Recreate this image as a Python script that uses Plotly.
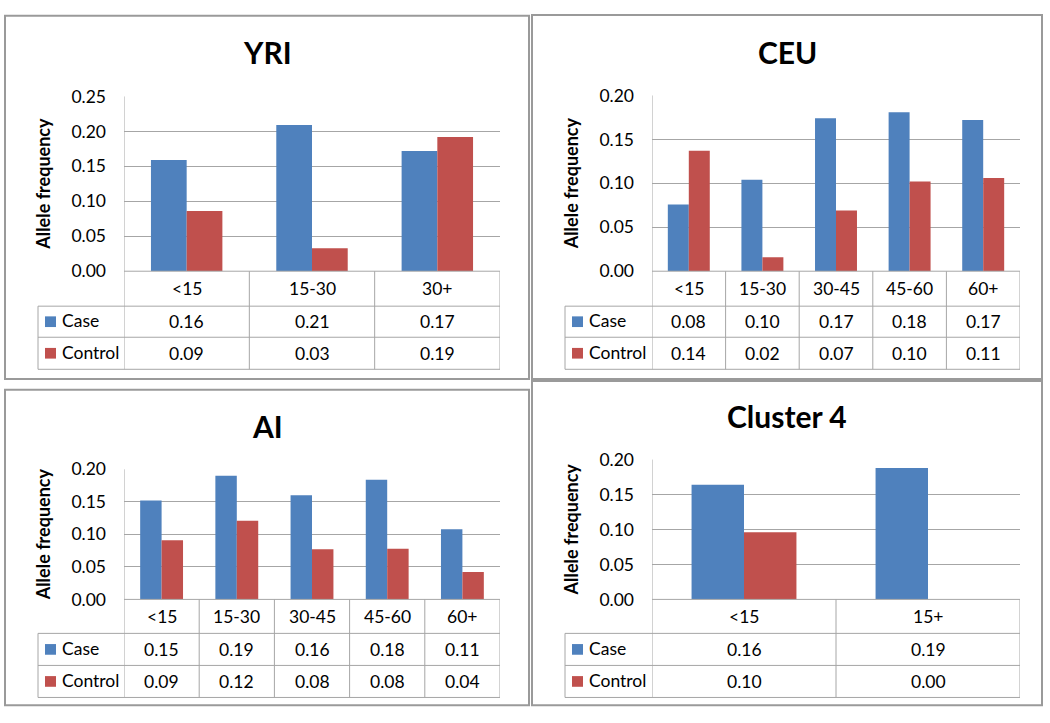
import plotly.graph_objects as go

W, H = 1050, 723
FONT = "Lato"
BLUE = "#4F81BD"
RED = "#C0504D"
GRID = "#A6A6A6"
FRAME = "#9A9A9A"

# ---- data ----
yri_cats = ["<15", "15-30", "30+"]
yri_case = [0.159, 0.209, 0.172]
yri_control = [0.086, 0.033, 0.192]

ceu_cats = ["<15", "15-30", "30-45", "45-60", "60+"]
ceu_case = [0.076, 0.104, 0.174, 0.181, 0.172]
ceu_control = [0.137, 0.016, 0.069, 0.102, 0.106]

ai_cats = ["<15", "15-30", "30-45", "45-60", "60+"]
ai_case = [0.152, 0.190, 0.160, 0.184, 0.108]
ai_control = [0.091, 0.121, 0.077, 0.078, 0.042]

c4_cats = ["<15", "15+"]
c4_case = [0.164, 0.188]
c4_control = [0.096, 0.0]

series_names = ["Case", "Control"]
y_title = "Allele frequency"

panels = [
    dict(title="YRI", cats=yri_cats, case=yri_case, control=yri_control, ymax=0.25,
         frame=(5, 5, 529, 379), pl=124, pr=500, pt=88, pb=268,
         rows=(304, 336, 369), leg=38, ty=42),
    dict(title="CEU", cats=ceu_cats, case=ceu_case, control=ceu_control, ymax=0.20,
         frame=(532, 4, 1042, 379), pl=652, pr=1020, pt=87, pb=268,
         rows=(304, 336, 369), leg=565, ty=42),
    dict(title="AI", cats=ai_cats, case=ai_case, control=ai_control, ymax=0.20,
         frame=(5, 390, 529, 715), pl=124, pr=500, pt=472, pb=606,
         rows=(641, 674, 707), leg=38, ty=427),
    dict(title="Cluster 4", cats=c4_cats, case=c4_case, control=c4_control, ymax=0.20,
         frame=(532, 381, 1042, 715), pl=652, pr=1020, pt=462, pb=606,
         rows=(641, 674, 707), leg=565, ty=417),
]

TXT = 17.5


def X(px):
    return px / W


def Y(py):
    return 1 - py / H


fig = go.Figure()
shapes = []
annotations = []
layout = {}

for k, p in enumerate(panels, start=1):
    xa = "x" if k == 1 else f"x{k}"
    ya = "y" if k == 1 else f"y{k}"
    n = len(p["cats"])
    for name, vals, col in [(series_names[0], p["case"], BLUE), (series_names[1], p["control"], RED)]:
        fig.add_trace(go.Bar(x=p["cats"], y=vals, name=name, marker=dict(color=col, line=dict(width=0)),
                             xaxis=xa, yaxis=ya, showlegend=False))
    layout[f"xaxis{k}"] = dict(domain=[X(p["pl"]), X(p["pr"])], range=[-0.5, n - 0.5],
                               anchor=ya, showticklabels=False, showgrid=False, zeroline=False,
                               showline=False, ticks="", type="category", fixedrange=True)
    layout[f"yaxis{k}"] = dict(domain=[Y(p["pb"]), Y(p["pt"])], range=[0, p["ymax"]],
                               anchor=xa, dtick=0.05, tick0=0, tickformat=".2f",
                               showgrid=True, gridcolor=GRID, gridwidth=1, zeroline=False,
                               showline=False, ticks="", ticklabelstandoff=17,
                               tickfont=dict(family=FONT, size=TXT, color="black"), fixedrange=True)

    fl, ft, fr, fb = p["frame"]
    shapes.append(dict(type="rect", xref="paper", yref="paper", x0=X(fl), x1=X(fr), y0=Y(fb), y1=Y(ft),
                       line=dict(color=FRAME, width=2), fillcolor="rgba(0,0,0,0)", layer="below"))
    r1, r2, r3 = p["rows"]
    line = dict(color=GRID, width=1)
    for i in range(n + 1):
        y1 = Y(p["pt"]) if i == 0 else Y(p["pb"])
        shapes.append(dict(type="line", xref=xa, yref="paper", x0=i - 0.5, x1=i - 0.5,
                           y0=Y(r3), y1=y1, line=line))
    shapes.append(dict(type="line", xref=xa, yref="paper", x0=-0.5, x1=n - 0.5,
                       y0=Y(p["pb"]), y1=Y(p["pb"]), line=line))
    for r in (r1, r2, r3):
        shapes.append(dict(type="line", xref="paper", yref="paper", x0=X(p["leg"]), x1=X(p["pr"]),
                           y0=Y(r), y1=Y(r), line=line))
    shapes.append(dict(type="line", xref="paper", yref="paper", x0=X(p["leg"]), x1=X(p["leg"]),
                       y0=Y(r1), y1=Y(r3), line=line))

    rows_mid = [(p["pb"] + r1) / 2, (r1 + r2) / 2, (r2 + r3) / 2]
    tf = dict(family=FONT, size=TXT, color="black")
    for i, c in enumerate(p["cats"]):
        annotations.append(dict(x=c, y=Y(rows_mid[0]), xref=xa, yref="paper", text=c, showarrow=False,
                                xanchor="center", yanchor="middle", font=tf))
        annotations.append(dict(x=c, y=Y(rows_mid[1]), xref=xa, yref="paper", text=f"{p['case'][i]:.2f}",
                                showarrow=False, xanchor="center", yanchor="middle", font=tf))
        annotations.append(dict(x=c, y=Y(rows_mid[2]), xref=xa, yref="paper", text=f"{p['control'][i]:.2f}",
                                showarrow=False, xanchor="center", yanchor="middle", font=tf))
    for name, col, ym in [(series_names[0], BLUE, rows_mid[1]), (series_names[1], RED, rows_mid[2])]:
        shapes.append(dict(type="rect", xref="paper", yref="paper", x0=X(p["leg"] + 7), x1=X(p["leg"] + 18),
                           y0=Y(ym + 5.5), y1=Y(ym - 5.5), fillcolor=col, line=dict(width=0)))
        annotations.append(dict(x=X(p["leg"] + 22), y=Y(ym - 1), xref="paper", yref="paper", text=name,
                                showarrow=False, xanchor="left", yanchor="middle", font=tf))
    annotations.append(dict(x=X((fl + fr) / 2), y=Y(p["ty"]), xref="paper", yref="paper",
                            text=f"<b>{p['title']}</b>", showarrow=False, xanchor="center", yanchor="middle",
                            font=dict(family=FONT, size=30, color="black")))
    annotations.append(dict(x=X(p["pl"] - 81), y=Y((p["pt"] + p["pb"]) / 2), xref="paper", yref="paper",
                            text=f"<b>{y_title}</b>", textangle=-90, showarrow=False,
                            xanchor="center", yanchor="middle",
                            font=dict(family=FONT, size=18, color="black")))

fig.update_layout(width=W, height=H, margin=dict(l=0, r=0, t=0, b=0),
                  paper_bgcolor="white", plot_bgcolor="white",
                  barmode="group", bargap=0.43, bargroupgap=0,
                  shapes=shapes, annotations=annotations, **layout)

fig.write_html("out.html", config={"displayModeBar": False},
               post_script="document.body.style.margin='0';document.body.style.overflow='hidden';")
